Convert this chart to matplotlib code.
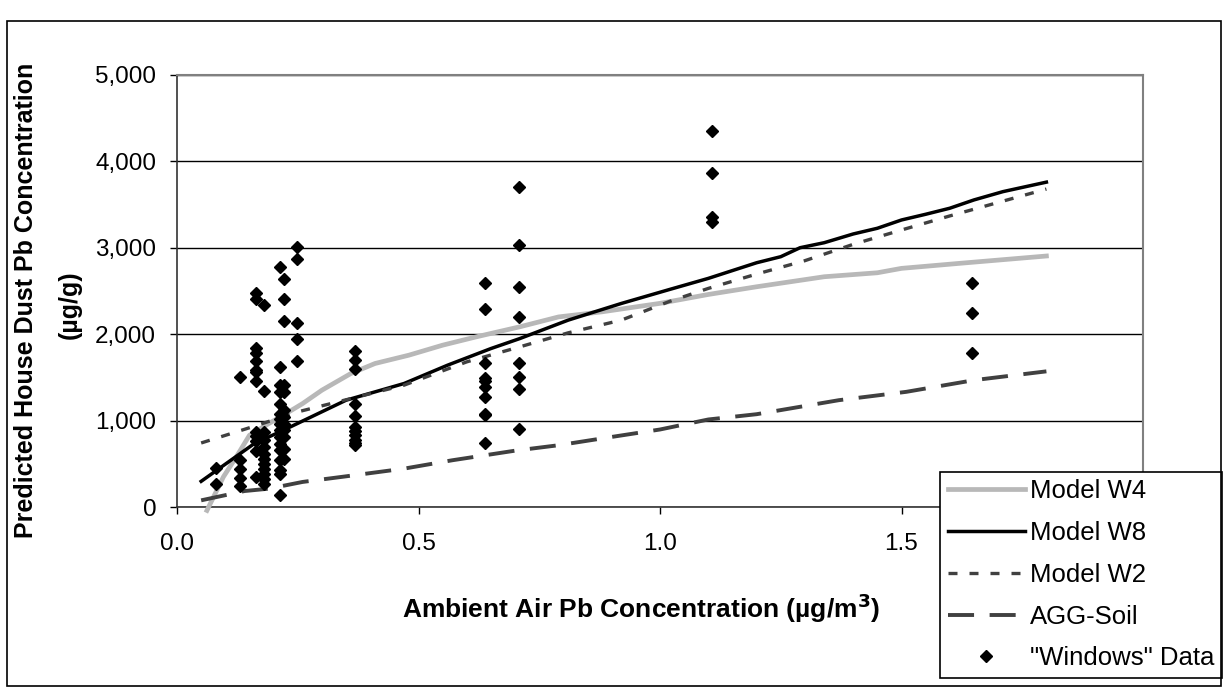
import matplotlib
matplotlib.use("Agg")
import matplotlib.pyplot as plt
from matplotlib.patches import Rectangle
from matplotlib.ticker import FuncFormatter, MultipleLocator

plt.rcParams['font.family'] = ['Liberation Sans', 'DejaVu Sans']

# "Windows" data (ambient air Pb, house dust Pb)
win_x = ([0.08] * 2 + [0.13] * 5 + [0.163] * 13 + [0.18] * 12 + [0.213] * 16
         + [0.221] * 12 + [0.249] * 5 + [0.368] * 11 + [0.638] * 10
         + [0.708] * 8 + [1.108] * 4 + [1.645] * 3)
win_y = ([456, 270]
         + [1506, 548, 444, 340, 243]
         + [2479, 2402, 1842, 1784, 1692, 1591, 1564, 1456, 869, 823, 765, 649, 348]
         + [2333, 1340, 869, 772, 695, 618, 560, 502, 444, 386, 328, 270]
         + [2773, 1622, 1410, 1332, 1197, 1081, 1023, 966, 888, 811, 734, 657, 541, 425, 378, 135]
         + [2634, 2402, 2155, 1410, 1332, 1120, 1043, 966, 888, 811, 676, 560]
         + [3005, 2866, 2124, 1939, 1688]
         + [1808, 1700, 1592, 1190, 1051, 927, 880, 830, 780, 740, 715]
         + [2589, 2287, 1661, 1488, 1460, 1384, 1268, 1074, 1062, 742]
         + [3700, 3032, 2542, 2195, 1661, 1499, 1360, 897]
         + [4350, 3863, 3353, 3303]
         + [2589, 2241, 1778])

w4_x = [0.062, 0.096, 0.125, 0.15, 0.19, 0.22, 0.26, 0.30, 0.36, 0.41, 0.48, 0.55,
        0.62, 0.71, 0.79, 0.88, 1.0, 1.1, 1.2, 1.34, 1.45, 1.5, 1.62, 1.8]
w4_y = [-40, 348, 600, 830, 966, 1062, 1197, 1352, 1545, 1661, 1757, 1873,
        1970, 2086, 2200, 2259, 2357, 2460, 2549, 2665, 2711, 2762, 2820, 2905]

w8_x = [0.05, 0.16, 0.22, 0.35, 0.47, 0.56, 0.65, 0.71, 0.81, 0.92, 1.02, 1.10,
        1.20, 1.25, 1.29, 1.34, 1.40, 1.45, 1.50, 1.55, 1.60, 1.65, 1.71, 1.80]
w8_y = [297, 734, 888, 1236, 1429, 1641, 1834, 1950, 2163, 2356, 2518, 2646,
        2827, 2897, 3001, 3059, 3160, 3226, 3322, 3388, 3458, 3554, 3650, 3760]

w2_x = [0.05, 0.16, 0.25, 0.36, 0.47, 0.6, 0.71, 0.81, 0.92, 1.02, 1.1, 1.2,
        1.3, 1.4, 1.5, 1.6, 1.8]
w2_y = [741, 935, 1101, 1255, 1410, 1680, 1854, 2016, 2163, 2380, 2530, 2696,
        2851, 3040, 3206, 3369, 3680]

agg_x = [0.05, 0.14, 0.19, 0.26, 0.35, 0.47, 0.57, 0.7, 0.79, 0.9, 1.0, 1.1,
         1.2, 1.37, 1.51, 1.65, 1.8]
agg_y = [77, 185, 212, 290, 355, 444, 541, 652, 715, 811, 897, 1013,
         1074, 1236, 1333, 1468, 1570]

fig = plt.figure(figsize=(12.24, 6.88), dpi=100)
ax = fig.add_axes([177 / 1224, 1 - 507 / 688, (1143 - 177) / 1224, (507 - 75) / 688])

ax.plot(w4_x, w4_y, color='#b8b8b8', lw=3.4, label='Model W4', clip_on=False, zorder=3)
ax.plot(w8_x, w8_y, color='black', lw=2.5, label='Model W8', zorder=4)
ax.plot(w2_x, w2_y, color='#404040', lw=2.4, dashes=(2.7, 3.6), label='Model W2', zorder=4)
ax.plot(agg_x, agg_y, color='#404040', lw=2.8, dashes=(6.7, 4), label='AGG-Soil', zorder=4)
ax.plot(win_x, win_y, 'D', color='black', ms=5.8, ls='none', label='"Windows" Data', zorder=5)

ax.set_xlim(0, 2.0)
ax.set_ylim(0, 5000)
ax.xaxis.set_major_locator(MultipleLocator(0.5))
ax.yaxis.set_major_locator(MultipleLocator(1000))
# the 2.0 label sits under the legend in the original, so it is left blank
ax.xaxis.set_major_formatter(FuncFormatter(lambda v, p: '' if v > 1.9 else '%.1f' % v))
ax.yaxis.set_major_formatter(FuncFormatter(lambda v, p: '{:,.0f}'.format(v)))
ax.tick_params(axis='both', direction='out', length=5, width=1, labelsize=17.5)
ax.tick_params(axis='x', pad=14)
ax.tick_params(axis='y', pad=10)
ax.grid(axis='y', color='black', lw=1)
ax.set_axisbelow(True)
for s in ['top', 'right']:
    ax.spines[s].set_color('#808080')
    ax.spines[s].set_linewidth(1.5)
for s in ['left', 'bottom']:
    ax.spines[s].set_color('#333333')
    ax.spines[s].set_linewidth(1.2)

fig.text(641 / 1224, 1 - 608 / 688, 'Ambient Air Pb Concentration (µg/m$^\\mathbf{3}$)',
         ha='center', va='center', fontsize=19, fontweight='bold')
fig.text(26 / 1224, 1 - 300 / 688, 'Predicted House Dust Pb Concentration', rotation=90,
         ha='center', va='center', fontsize=18, fontweight='bold')
fig.text(70 / 1224, 1 - 305 / 688, '(µg/g)', rotation=90,
         ha='center', va='center', fontsize=18, fontweight='bold')

leg = ax.legend(loc='lower right', bbox_to_anchor=(1222 / 1224, 1 - 678 / 688),
                bbox_transform=fig.transFigure, fontsize=18.5, frameon=True,
                fancybox=False, framealpha=1, edgecolor='black', borderpad=0.3,
                labelspacing=0.69, handlelength=3.0, handletextpad=0.2, borderaxespad=0)
leg.get_frame().set_linewidth(1.2)
leg.set_zorder(10)

fig.patches.append(Rectangle((7 / 1224, 2 / 688), 1214 / 1224, 665 / 688,
                             transform=fig.transFigure, fill=False,
                             edgecolor='black', lw=1.2))

fig.savefig('out.png', dpi=100)
